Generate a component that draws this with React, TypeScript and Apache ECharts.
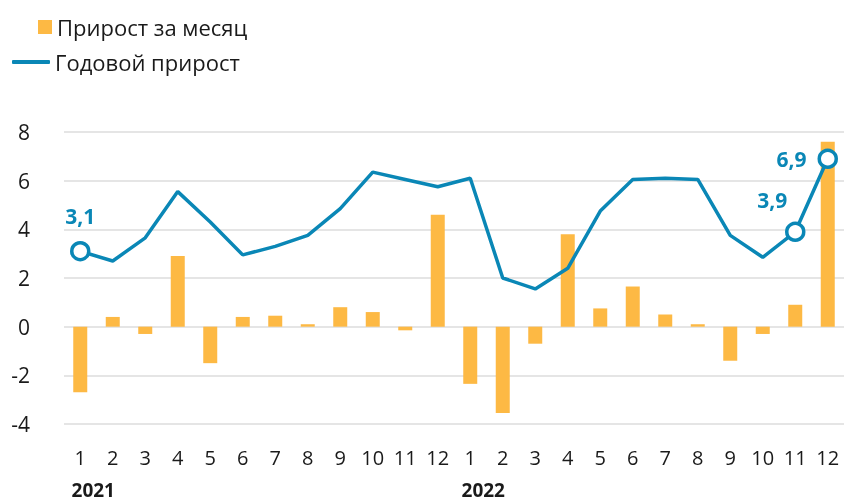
import React, { useEffect, useRef } from "react";
import * as echarts from "echarts";

const months = ["1","2","3","4","5","6","7","8","9","10","11","12","1","2","3","4","5","6","7","8","9","10","11","12"];
const years = ["2021","","","","","","","","","","","","2022","","","","","","","","","","",""];
const monthly = [-2.7, 0.4, -0.3, 2.9, -1.5, 0.4, 0.45, 0.1, 0.8, 0.6, -0.15, 4.6, -2.35, -3.55, -0.7, 3.8, 0.75, 1.65, 0.5, 0.1, -1.4, -0.3, 0.9, 7.6];
const yearly = [3.1, 2.7, 3.65, 5.55, 4.3, 2.95, 3.3, 3.75, 4.85, 6.35, 6.05, 5.75, 6.1, 2.0, 1.55, 2.4, 4.75, 6.05, 6.1, 6.05, 3.75, 2.85, 3.9, 6.9];
const marked = [0, 22, 23];
const yTicks = { min: -4, max: 8, interval: 2 };

const BAR = "#FDB944";
const LINE = "#0A87B6";
const FONT = "'Open Sans', 'Noto Sans', sans-serif";

export default function App() {
  const ref = useRef<HTMLDivElement>(null);
  useEffect(() => {
    const chart = echarts.init(ref.current!, null, { renderer: "svg" });
    const labelPos: any = {
      0: { position: "top", distance: 14, offset: [0, 0] },
      22: { position: "top", distance: 11, offset: [-23, 0] },
      23: { position: "left", distance: 11, offset: [0, 0] },
    };
    const lineData = yearly.map((v, i) => {
      if (marked.indexOf(i) >= 0) {
        return {
          value: v,
          symbol: "circle",
          symbolSize: 17,
          itemStyle: { color: "#fff", borderColor: LINE, borderWidth: 3.5 },
          label: {
            show: true,
            ...labelPos[i],
            color: LINE,
            fontSize: 21,
            fontWeight: "bold",
            fontFamily: FONT,
            formatter: (p: any) => String(p.value).replace(".", ","),
          },
        };
      }
      return { value: v, symbol: "none" };
    });
    chart.setOption({
      animation: false,
      textStyle: { fontFamily: FONT },
      legend: [
        {
          left: 33,
          top: 11,
          itemWidth: 14,
          itemHeight: 14,
          icon: "rect",
          data: ["Прирост за месяц"],
          textStyle: { fontSize: 22, color: "#1a1a1a", padding: [0, 0, 0, 0], fontFamily: FONT },
        },
        {
          left: 7,
          top: 46,
          itemWidth: 38,
          itemHeight: 4,
          icon: "roundRect",
          data: ["Годовой прирост"],
          itemStyle: { color: LINE },
          textStyle: { fontSize: 22, color: "#1a1a1a", padding: [0, 0, 0, 0], fontFamily: FONT },
        },
      ],
      grid: { left: 64, right: 0, top: 132, bottom: 77 },
      xAxis: [
        {
          type: "category",
          data: months,
          axisLine: { show: false },
          axisTick: { show: false },
          axisLabel: { interval: 0, fontSize: 20, color: "#1a1a1a", margin: 23, fontFamily: FONT },
        },
        {
          type: "category",
          data: years,
          position: "bottom",
          offset: 34,
          axisLine: { show: false },
          axisTick: { show: false },
          axisLabel: {
            interval: 0,
            formatter: (v: string) => (v ? "{y|" + v + "}" : ""),
            rich: {
              y: { fontSize: 19, fontWeight: "bold", color: "#1a1a1a", padding: [0, 0, 0, 26], fontFamily: FONT },
            },
            margin: 22,
          },
        },
      ],
      yAxis: {
        type: "value",
        ...yTicks,
        axisLine: { show: false },
        axisTick: { show: false },
        axisLabel: { fontSize: 21, color: "#1a1a1a", margin: 34, fontFamily: FONT },
        splitLine: { lineStyle: { color: "#dcdcdc", width: 1.5 } },
      },
      series: [
        {
          name: "Прирост за месяц",
          type: "bar",
          data: monthly,
          barWidth: 14,
          itemStyle: { color: BAR },
        },
        {
          name: "Годовой прирост",
          type: "line",
          data: lineData,
          symbol: "none",
          lineStyle: { color: LINE, width: 3.5 },
          itemStyle: { color: LINE },
          z: 5,
        },
      ],
    });
    return () => chart.dispose();
  }, []);
  return <div ref={ref} style={{ position: "fixed", left: 0, top: 0, width: 844, height: 501 }} />;
}
